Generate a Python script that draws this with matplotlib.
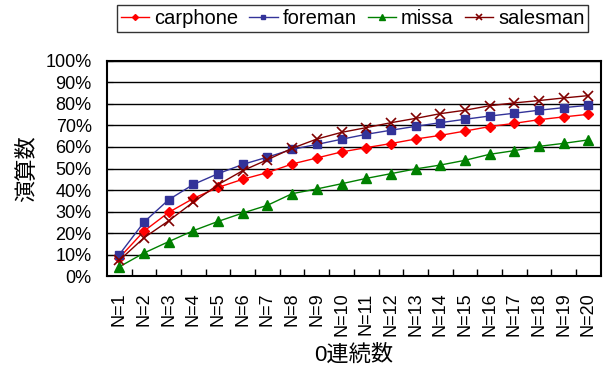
import numpy as np
import matplotlib
matplotlib.use("Agg")
import matplotlib.pyplot as plt
from matplotlib.ticker import FixedLocator, PercentFormatter

plt.rcParams['font.family'] = ['Liberation Sans', 'Noto Sans CJK JP']

# data (percent)
labels = [f"N={i}" for i in range(1, 21)]
carphone = [8.5, 20.9, 29.6, 36.1, 41.2, 45.0, 48.1, 52.1, 54.9, 57.7,
            59.7, 61.6, 63.7, 65.4, 67.4, 69.5, 71.0, 72.7, 74.0, 75.2]
foreman = [10.0, 25.1, 35.5, 42.6, 47.6, 51.9, 55.3, 58.9, 61.2, 63.6,
           65.9, 67.8, 69.6, 71.3, 72.9, 74.4, 75.7, 77.1, 78.3, 79.4]
missa = [4.3, 10.7, 16.0, 21.1, 25.4, 29.3, 32.9, 38.3, 40.5, 42.9,
         45.4, 47.6, 49.8, 51.6, 53.8, 56.6, 58.3, 60.3, 61.7, 63.3]
salesman = [7.3, 17.8, 25.7, 34.4, 42.5, 49.0, 54.1, 59.4, 63.7, 66.8,
            69.0, 71.3, 73.3, 75.5, 77.1, 79.2, 80.5, 81.6, 82.8, 83.9]

fig = plt.figure(figsize=(6.08, 3.73), dpi=100)
ax = fig.add_axes([0.176, 0.260, 0.812, 0.5765])

x = np.arange(len(labels))
ax.plot(x, carphone, color='#FF0000', marker='D', ms=5, lw=1, label='carphone')
ax.plot(x, foreman, color='#333399', marker='s', ms=6, lw=1, label='foreman')
ax.plot(x, missa, color='#008000', marker='^', ms=6.5, lw=1, label='missa')
ax.plot(x, salesman, color='#800000', marker='x', ms=7, mew=1.2, lw=1, label='salesman')

ax.set_xlim(-0.5, len(labels) - 0.5)
ax.set_ylim(0, 100)
ax.set_yticks(np.arange(0, 101, 10))
ax.yaxis.set_major_formatter(PercentFormatter(decimals=0))
ax.set_xticks(x)
ax.set_xticklabels(labels, rotation=90)
ax.xaxis.set_minor_locator(FixedLocator(np.arange(0.5, len(labels) - 1, 1)))
ax.tick_params(axis='x', which='major', length=0, labelsize=13, pad=12)
ax.tick_params(axis='x', which='minor', direction='in', length=5, width=1, color='black')
ax.tick_params(axis='y', direction='in', length=4, labelsize=13, pad=11)
ax.grid(axis='y', color='black', lw=1)
ax.set_axisbelow(True)
for s in ax.spines.values():
    s.set_color('black')
    s.set_linewidth(1.5)

ax.set_xlabel('0連続数', fontsize=16, labelpad=6)
ax.set_ylabel('演算数', fontsize=16, labelpad=5)

leg = fig.legend(loc='upper center', bbox_to_anchor=(0.58, 0.987), ncol=4,
                 fontsize=14.5, frameon=True, fancybox=False, edgecolor='black',
                 handlelength=1.4, handletextpad=0.25, columnspacing=0.55,
                 borderpad=0.2, borderaxespad=0, markerscale=0.6)
leg.get_frame().set_linewidth(1)

fig.savefig('out.png', dpi=100)
